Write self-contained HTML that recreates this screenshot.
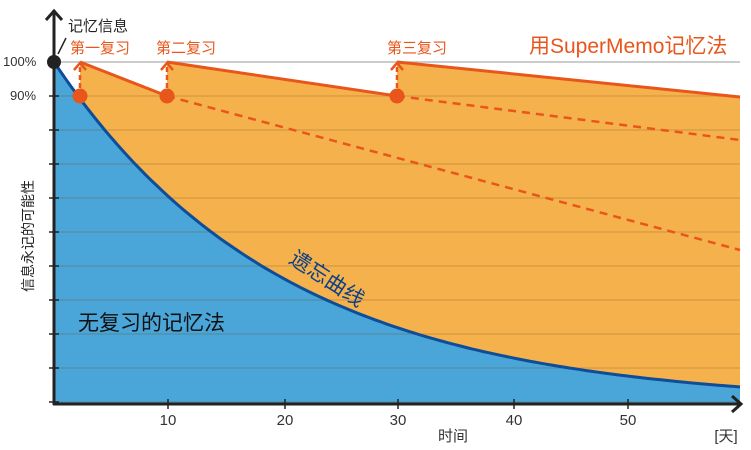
<!DOCTYPE html>
<html><head><meta charset="utf-8"><style>
body{margin:0;background:#fff;width:751px;height:445px;overflow:hidden}
text{font-family:"Liberation Sans","Noto Sans CJK SC",sans-serif}
</style></head><body>
<svg id="s" width="751" height="445" xmlns="http://www.w3.org/2000/svg">
<line x1="54" y1="62" x2="740" y2="62" stroke="#bbb" stroke-width="1.5"/>
<path id="orange" fill="#f5b24c" d=""/>
<path id="blue" fill="#4aa5d8" d=""/>
<g id="grid"></g>
<path id="curve" fill="none" stroke="#0d4d9a" stroke-width="3" d=""/>
<path d="M167,96 L740,250" stroke="#e8561c" stroke-width="2.5" stroke-dasharray="8,6" fill="none"/>
<path d="M397,96 L740,140" stroke="#e8561c" stroke-width="2.5" stroke-dasharray="8,6" fill="none"/>
<path d="M80,62 L167,96 M167,62 L397,96 M397,62 L740,97" stroke="#e8561c" stroke-width="3" fill="none"/>
<g stroke="#e8561c" stroke-width="2.5" fill="none">
<path d="M80,96 V64" stroke-dasharray="5,3"/><path d="M74,70 L80,63 L86,70"/>
<path d="M167,96 V64" stroke-dasharray="5,3"/><path d="M161,70 L167,63 L173,70"/>
<path d="M397,96 V64" stroke-dasharray="5,3"/><path d="M391,70 L397,63 L403,70"/>
</g>
<circle cx="80" cy="96" r="7.5" fill="#e8561c"/>
<circle cx="167" cy="96" r="7.5" fill="#e8561c"/>
<circle cx="397" cy="96" r="7.5" fill="#e8561c"/>
<line x1="54" y1="10" x2="54" y2="405" stroke="#222" stroke-width="3"/>
<path d="M46,20 L54,11 L62,20" stroke="#222" stroke-width="3" fill="none"/>
<line x1="53" y1="404" x2="740" y2="404" stroke="#222" stroke-width="3"/>
<path d="M732,396 L741,404 L732,412" stroke="#222" stroke-width="3" fill="none"/>
<g id="ticks" stroke="#222" stroke-width="1.5"></g>
<circle cx="54" cy="62" r="7" fill="#222"/>
<line x1="58" y1="54" x2="66" y2="38" stroke="#222" stroke-width="1.5"/>
<text x="68" y="31" font-size="15" fill="#222">记忆信息</text>
<text x="70" y="53" font-size="15" fill="#e8561c">第一复习</text>
<text x="156" y="53" font-size="15" fill="#e8561c">第二复习</text>
<text x="387" y="53" font-size="15" fill="#e8561c">第三复习</text>
<text x="529" y="53" font-size="21" fill="#e8561c">用SuperMemo记忆法</text>
<text x="3" y="66" font-size="13" fill="#333">100%</text>
<text x="10" y="100" font-size="13" fill="#333">90%</text>
<text x="78" y="330" font-size="21" fill="#111">无复习的记忆法</text>
<text transform="translate(288,262) rotate(33)" font-size="21" fill="#0b3f88">遗忘曲线</text>
<text transform="translate(33,292) rotate(-90)" font-size="14" fill="#222">信息永记的可能性</text>
<g font-size="15" fill="#333" text-anchor="middle">
<text x="168" y="425">10</text><text x="285" y="425">20</text><text x="398" y="425">30</text>
<text x="514" y="425">40</text><text x="628" y="425">50</text>
<text x="453" y="441">时间</text><text x="726" y="441">[天]</text>
</g>
</svg>
<script>
var X=t=>54+t*11.45, Y=r=>404-r*342;
var pts=[];for(var t=0;t<=60;t+=0.5){var x=X(t);if(x>740)x=740;pts.push(x.toFixed(1)+","+Y(Math.exp(-t/20)).toFixed(1));}
var c="M"+pts.join(" L");
document.getElementById('curve').setAttribute('d',c);
document.getElementById('blue').setAttribute('d',c+" L740,404 L54,404 Z");
document.getElementById('orange').setAttribute('d',"M54,62 L80,96 L80,62 L167,96 L167,62 L397,96 L397,62 L740,97 L740,404 L54,404 Z");
var g=document.getElementById('grid'),tk=document.getElementById('ticks'),ns="http://www.w3.org/2000/svg";
for(var y=96;y<404;y+=34){var l=document.createElementNS(ns,'line');l.setAttribute('x1',55);l.setAttribute('x2',740);l.setAttribute('y1',y);l.setAttribute('y2',y);l.setAttribute('stroke','rgba(120,80,30,0.22)');l.setAttribute('stroke-width','1.5');g.appendChild(l);
var k=document.createElementNS(ns,'line');k.setAttribute('x1',49);k.setAttribute('x2',59);k.setAttribute('y1',y);k.setAttribute('y2',y);tk.appendChild(k);}
[168,285,398,514,628].forEach(function(x){var k=document.createElementNS(ns,'line');k.setAttribute('x1',x);k.setAttribute('x2',x);k.setAttribute('y1',399);k.setAttribute('y2',409);tk.appendChild(k);});
</script>
</body></html>
